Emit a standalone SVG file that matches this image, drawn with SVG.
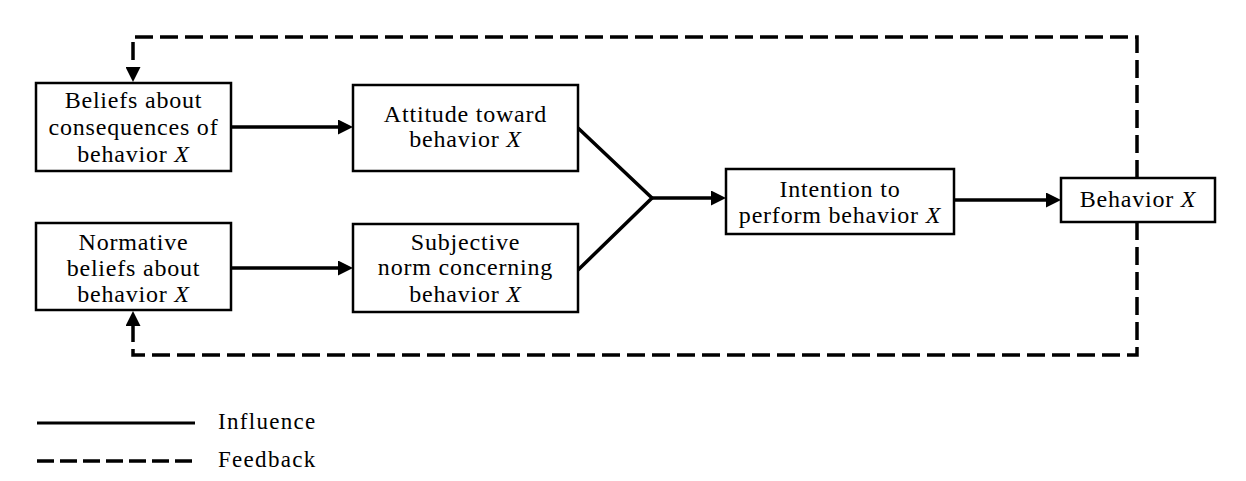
<svg xmlns="http://www.w3.org/2000/svg" width="1246" height="481" viewBox="0 0 1246 481">
<defs>
<marker id="ah" markerUnits="userSpaceOnUse" markerWidth="16" markerHeight="15" refX="1" refY="7.5" orient="auto">
<path d="M0,0 L15,7.5 L0,15 z" fill="#000"/>
</marker>
<style>
.box{fill:#fff;stroke:#000;stroke-width:2.5}
.t{font-family:"Liberation Serif","Times New Roman",serif;font-size:24px;fill:#000;text-anchor:middle;letter-spacing:0.8px}
.lg{font-family:"Liberation Serif","Times New Roman",serif;font-size:23px;fill:#000;letter-spacing:1.3px}
.solid{fill:none;stroke:#000;stroke-width:3.5}
.dash{fill:none;stroke:#000;stroke-width:3.5;stroke-dasharray:18 7}
</style>
</defs>
<rect width="1246" height="481" fill="#fff"/>
<g id="connectors">
<path class="dash" d="M1137,178 V37 H133 V68" marker-end="url(#ah)"/>
<path class="dash" d="M1137,222 V355 H133 V325" marker-end="url(#ah)"/>
<path class="solid" d="M231,127 H339" marker-end="url(#ah)"/>
<path class="solid" d="M231,268 H339" marker-end="url(#ah)"/>
<path class="solid" d="M578,128 L652,198 L578,270"/>
<path class="solid" d="M652,198 H712" marker-end="url(#ah)"/>
<path class="solid" d="M954,200 H1047" marker-end="url(#ah)"/>
</g>
<g id="beliefs">
<rect class="box" x="36" y="83" width="195" height="88"/>
<text class="t" x="133.5" y="108">Beliefs about</text>
<text class="t" x="133.5" y="135">consequences of</text>
<text class="t" x="133.5" y="162">behavior <tspan font-style="italic">X</tspan></text>
</g>
<g id="attitude">
<rect class="box" x="353" y="85" width="225" height="86"/>
<text class="t" x="465.5" y="122">Attitude toward</text>
<text class="t" x="465.5" y="147">behavior <tspan font-style="italic">X</tspan></text>
</g>
<g id="normative">
<rect class="box" x="36" y="223" width="195" height="87"/>
<text class="t" x="133.5" y="250">Normative</text>
<text class="t" x="133.5" y="276">beliefs about</text>
<text class="t" x="133.5" y="302">behavior <tspan font-style="italic">X</tspan></text>
</g>
<g id="subjective">
<rect class="box" x="353" y="224" width="225" height="88"/>
<text class="t" x="465.5" y="250">Subjective</text>
<text class="t" x="465.5" y="275">norm concerning</text>
<text class="t" x="465.5" y="302">behavior <tspan font-style="italic">X</tspan></text>
</g>
<g id="intention">
<rect class="box" x="726" y="169" width="228" height="65"/>
<text class="t" x="840" y="197">Intention to</text>
<text class="t" x="840" y="223">perform behavior <tspan font-style="italic">X</tspan></text>
</g>
<g id="behavior">
<rect class="box" x="1061" y="178" width="154" height="44"/>
<text class="t" x="1138" y="207">Behavior <tspan font-style="italic">X</tspan></text>
</g>
<g id="legend">
<line x1="37" y1="423" x2="195" y2="423" stroke="#000" stroke-width="3"/>
<text class="lg" x="218" y="429">Influence</text>
<line x1="37" y1="461" x2="195" y2="461" stroke="#000" stroke-width="3.5" stroke-dasharray="17 6"/>
<text class="lg" x="218" y="467">Feedback</text>
</g>
</svg>
